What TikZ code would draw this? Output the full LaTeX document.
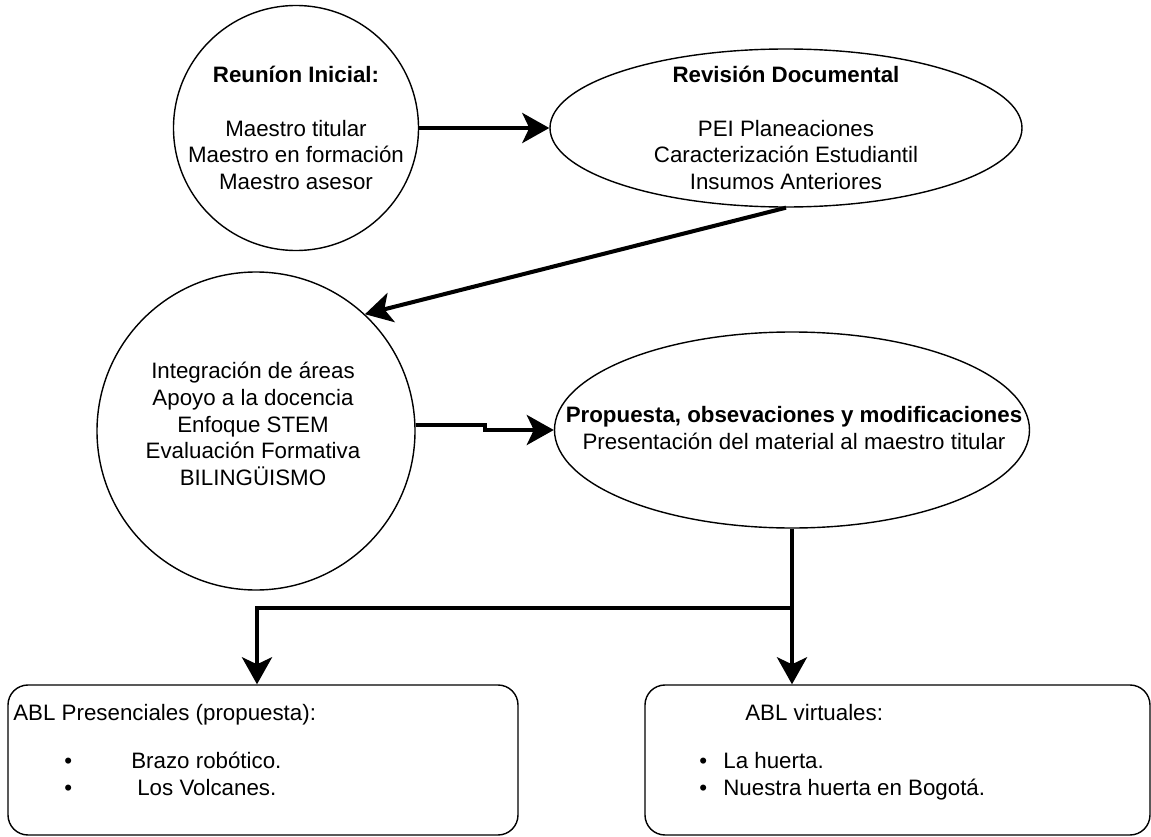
\documentclass[tikz,border=0pt]{standalone}
\usepackage{fontspec}
\setmainfont{Liberation Sans}
\usetikzlibrary{arrows.meta}
\usetikzlibrary{shapes}
\begin{document}
\begin{tikzpicture}
        \tikzset{>={Stealth[length=0.54cm,width=0.6cm,inset=0.14cm]}}
        \tikzstyle{every node}=[font=\fontsize{12.7}{15.3}\selectfont,text=black,inner sep=0pt]
        \tikzstyle{bubble}=[draw=black,line width=0.8pt]
        \tikzstyle{flow}=[->,line width=2.3pt]
        \useasboundingbox (0,0) rectangle (23.02,-16.74);

        \node [bubble, circle, minimum size=4.9cm] (n0) at (5.92,-2.56) {};
        \node [bubble, ellipse, minimum width=9.44cm, minimum height=3.16cm] (n1) at (15.72,-2.56) {};
        \node [bubble, circle, minimum size=6.36cm] (n2) at (5.12,-8.62) {};
        \node [bubble, ellipse, minimum width=9.5cm, minimum height=3.92cm] (n3) at (15.84,-8.6) {};
        \node [bubble, rectangle, rounded corners=0.4cm, minimum width=10.2cm, minimum height=3cm] (n4) at (5.26,-15.2) {};
        \node [bubble, rectangle, rounded corners=0.4cm, minimum width=10.1cm, minimum height=3cm] (n5) at (17.95,-15.2) {};

        \node [align=center] (t0) at (n0.center) {\textbf{Reuníon Inicial:}\\[15.3pt] Maestro titular\\ Maestro en formación\\ Maestro asesor};
        \node [align=center] (t1) at (n1.center) {\textbf{Revisión Documental}\\[15.3pt] PEI Planeaciones\\ Caracterización Estudiantil\\ Insumos Anteriores};
        \node [align=center] (t2) at (5.06,-8.48) {Integración de áreas\\ Apoyo a la docencia\\ Enfoque STEM\\ Evaluación Formativa\\ BILINGÜISMO};
        \node [align=center] (t3) at (15.88,-8.56) {\textbf{Propuesta, obsevaciones y modificaciones}\\ Presentación del material al maestro titular};
        \node [anchor=base west] (t4) at (0.26,-14.40) {ABL Presenciales (propuesta):};
        \node [anchor=base west] (t5) at (1.28,-15.36) {\makebox[1.34cm][l]{\textbullet}Brazo robótico.};
        \node [anchor=base west] (t6) at (1.28,-15.90) {\makebox[1.46cm][l]{\textbullet}Los Volcanes.};
        \node [anchor=base west] (t7) at (14.90,-14.40) {ABL virtuales:};
        \node [anchor=base west] (t8) at (13.98,-15.36) {\makebox[0.48cm][l]{\textbullet}La huerta.};
        \node [anchor=base west] (t9) at (13.98,-15.90) {\makebox[0.48cm][l]{\textbullet}Nuestra huerta en Bogotá.};

        \coordinate (k0) at (9.70,-8.60);
        \coordinate (k1) at (15.84,-12.16);
        \draw [flow] (n0.east) -- (n1.west);
        \draw [flow] (n1.south) -- (n2.47);
        \draw [flow] (n2.2) -| (k0) -- (n3.west);
        \draw [line width=2.3pt] (n3.south) -- (k1);
        \draw [flow] (k1) -| ([xshift=-0.12cm]n4.north);
        \draw [flow] (k1) -- (k1 |- n5.north);
    \end{tikzpicture}
\end{document}
